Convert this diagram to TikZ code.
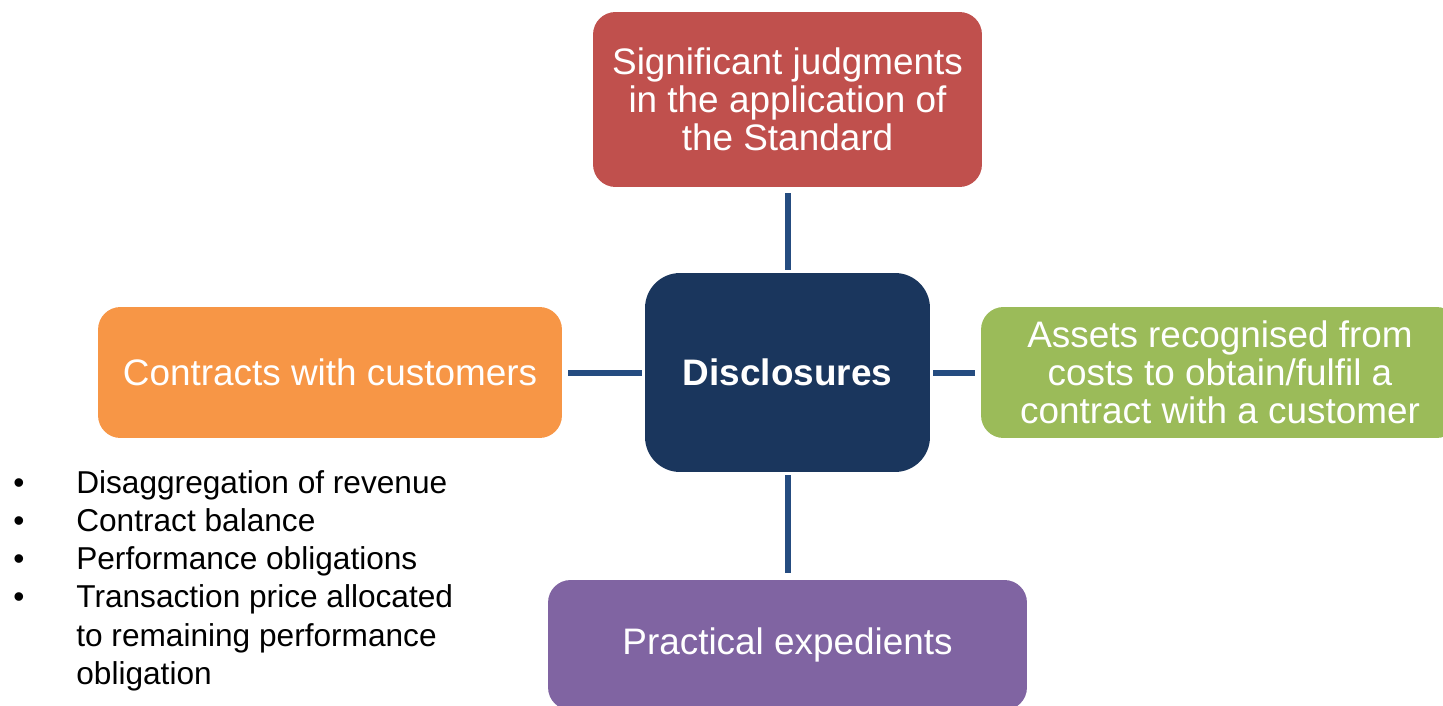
\documentclass[tikz,border=0pt]{standalone}
\usepackage{fontspec}
\setmainfont{Liberation Sans}
\usetikzlibrary{positioning}
\definecolor{cJ}{RGB}{192, 80, 77}
\definecolor{cC}{RGB}{247, 150, 70}
\definecolor{cA}{RGB}{155, 187, 89}
\definecolor{cP}{RGB}{128, 100, 162}
\definecolor{cD}{RGB}{26, 54, 93}
\definecolor{cL}{RGB}{37, 76, 128}
\tikzstyle{link} = [line width=0.12cm,draw=cL]
\tikzstyle{Box}=[rectangle,
		rounded corners=0.45cm,
		inner sep=0pt,
		align=center,
		text=white,
		font=\fontsize{21}{21.6}\selectfont]
\tikzstyle{BoxJ}=[Box,fill=cJ,minimum width=7.78cm,minimum height=3.5cm]
\tikzstyle{BoxC}=[Box,fill=cC,minimum width=9.28cm,minimum height=2.62cm]
\tikzstyle{BoxA}=[Box,fill=cA,minimum width=9.56cm,minimum height=2.62cm]
\tikzstyle{BoxP}=[Box,fill=cP,minimum width=9.58cm,minimum height=2.6cm]
\tikzstyle{BoxD}=[Box,fill=cD,rounded corners=0.7cm,minimum width=5.7cm,minimum height=3.98cm]

\begin{document}
\begin{tikzpicture}[x=0.02cm,y=-0.02cm]
  \useasboundingbox (0,0) rectangle (1443,706);
  \clip (0,0) rectangle (1443,706);

  \node [BoxD] (hub) at (787.5,372.5) {\textbf{Disclosures}};
  \node [BoxJ] (judg) at (787.5,99.5) {Significant judgments\\in the application of\\the Standard};
  \node [BoxC] (contr) at (330,372.5) {Contracts with customers};
  \node [BoxA] (assets) at (1220,372.5) {Assets recognised from\\costs to obtain/fulfil a\\contract with a customer};
  \node [BoxP] (pract) at (787.5,645) {Practical expedients};

  % spokes
  \draw[link,shorten <=0.12cm,shorten >=0.06cm] (judg) -- (hub);
  \draw[link,shorten <=0.12cm,shorten >=0.06cm] (contr) -- (hub);
  \draw[link,shorten <=0.06cm,shorten >=0.12cm] (hub) -- (assets);
  \draw[link,shorten <=0.06cm,shorten >=0.14cm] (hub) -- (pract);

  % items under the contracts box
  \node [anchor=base west,inner sep=0pt,font=\fontsize{18}{21.8}\selectfont] (items) at (13,493) {%
    \begin{tabular}[t]{@{}p{1.26cm}@{}l@{}}
      \textbullet & Disaggregation of revenue\\
      \textbullet & Contract balance\\
      \textbullet & Performance obligations\\
      \textbullet & Transaction price allocated\\
                  & to remaining performance\\
                  & obligation
    \end{tabular}};

\end{tikzpicture}
\end{document}
